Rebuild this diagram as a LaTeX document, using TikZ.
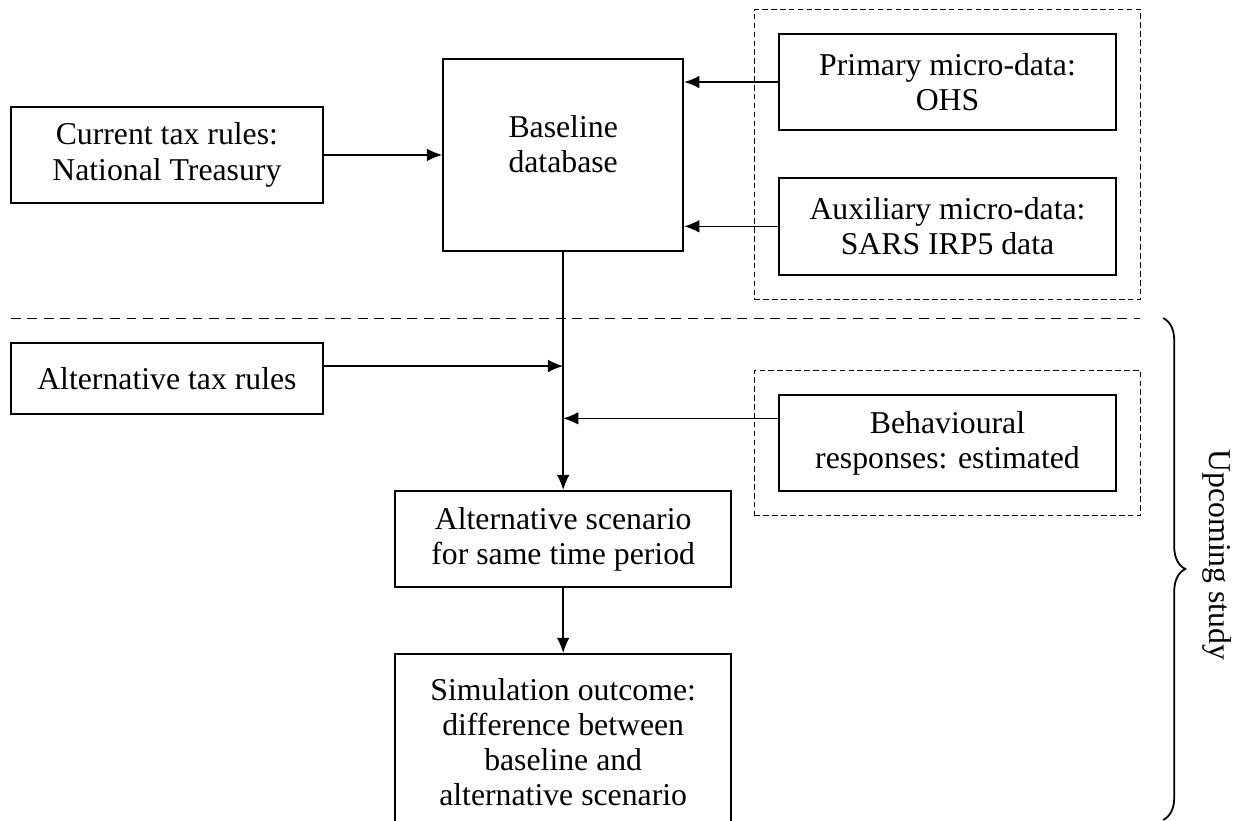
\documentclass[tikz,border=0pt]{standalone}
\usepackage{fontspec}
\setmainfont{Liberation Serif}
\usetikzlibrary{positioning,arrows.meta,fit,calc,decorations.pathreplacing}

\begin{document}
\begin{tikzpicture}[x=1pt,y=1pt,
                    every node/.style={on grid},
                    stage/.style={draw, line width=0.75pt, align=center, inner sep=0pt,
                                  font=\fontsize{12.5}{13.8}\selectfont},
                    every fit/.style={draw, dash pattern=on 2.2pt off 1.3pt, line width=0.6pt, inner sep=9.3pt},
                    flow/.style={line width=0.6pt},
                    >={Latex[length=6pt,width=5pt]}]
	\clip (0,0) rectangle (491.3,323.2);

	% baseline part
	\node[stage, minimum width=122.8pt, minimum height=37.8pt] (cur) at (65.7,262.2) {Current tax rules:\\National Treasury};
	\node[stage, minimum width=94.5pt, minimum height=75.6pt, right=156pt of cur] (base) {};
	\node[align=center, font=\fontsize{12.5}{13.8}\selectfont, yshift=4.3pt] (basetext) at (base) {Baseline\\database};
	\node[stage, minimum width=132.7pt, minimum height=37.8pt, above right=28.7pt and 151.3pt of base] (prim) {Primary micro-data:\\OHS};
	\node[stage, minimum width=132.7pt, minimum height=38.2pt, below=56.8pt of prim] (aux) {Auxiliary micro-data:\\SARS IRP5 data};
	\node[fit=(prim) (aux)] (micro) {};

	\draw[flow,->] (cur) -- (base);
	\draw[flow,->] (prim.west) -- (prim.west -| base.east);
	\draw[flow,->] (aux.west) -- (aux.west -| base.east);

	% upcoming study part
	\draw[line width=0.6pt, dash pattern=on 3.9pt off 2.6pt] (4.3,197.8) -- (448.8,197.8);

	\node[stage, minimum width=122.8pt, minimum height=28pt, below=88pt of cur] (alt) {Alternative tax rules};
	\node[stage, minimum width=132.7pt, minimum height=37.8pt, below=85.3pt of aux] (beh) {Behavioural\\responses: estimated};
	\node[fit=(beh)] (behfit) {};
	\node[stage, minimum width=132.3pt, minimum height=37.8pt, below=151.2pt of base] (scen) {Alternative scenario\\for same time period};
	\node[stage, minimum width=132.3pt, minimum height=69.3pt, below=79.9pt of scen] (sim) {Simulation outcome:\\difference between\\baseline and\\alternative scenario};

	\coordinate (altin) at ($(base.south |- alt.east)+(0,4.9)$);
	\coordinate (behin) at ($(base.south |- beh.west)+(0,9.7)$);
	\draw[flow,->] (base.south) -- (scen.north);
	\draw[flow,->] (alt.east |- altin) -- (altin);
	\draw[flow,->] (beh.west |- behin) -- (behin);
	\draw[flow,->] (scen) -- (sim);

	\coordinate (bracetop) at (457.9,198.0);
	\coordinate (bracebot) at (457.9,0.4);
	\draw[line width=0.7pt, decorate, decoration={brace, amplitude=8.7pt}] (bracetop) -- (bracebot);
	\node[rotate=-90, font=\fontsize{12.5}{13.8}\selectfont] (upcoming) at (479.1,104.7) {Upcoming study};
\end{tikzpicture}
\end{document}
